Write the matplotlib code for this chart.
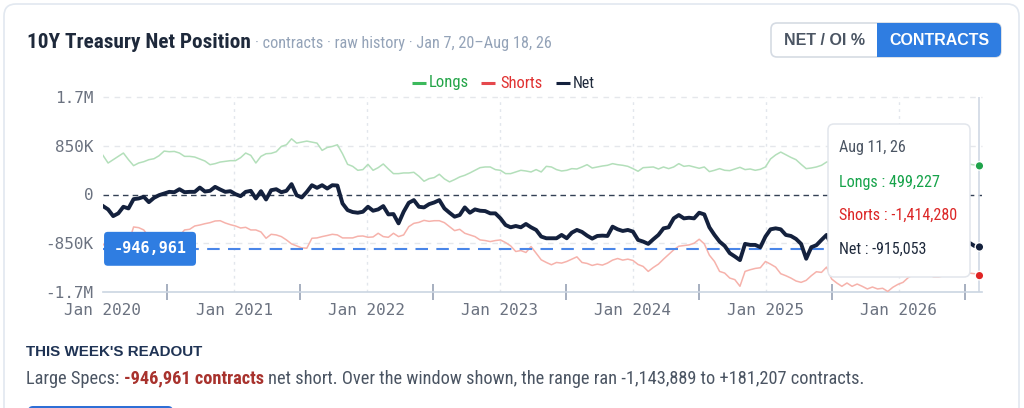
import matplotlib
matplotlib.use("Agg")
import matplotlib.pyplot as plt
from matplotlib.patches import FancyBboxPatch, Rectangle
from matplotlib.lines import Line2D
from matplotlib.transforms import blended_transform_factory
from matplotlib import font_manager as fm
import pandas as pd
import numpy as np

# ---------------- data (thousands of contracts, bi-weekly samples) ----------------
dates = list(pd.date_range("2020-01-07", "2026-08-11", freq="14D")) + [pd.Timestamp("2026-08-18")]

net_k = [
    -202, -260, -376, -329, -214, -243, -81, -69, -40, -133,
    -58, -12, 17, 46, 40, 92, 40, 46, 46, 121,
    52, 64, 133, 87, 46, 58, 6, -29, 46, 64,
    -69, 58, -87, 75, 92, 40, 64, 181.207, -12, -52,
    46, 162, 116, 162, 104,
    162, 156, -156, -272, -306, -318, -301, -214, -283, -260,
    -202, -347, -341, -503, -301, -145, -98, -214, -225, -168,
    -139, -98, -243, -318, -387, -358, -225, -318, -260, -283,
    -289, -329, -329, -416, -532, -572, -549, -572, -514, -572,
    -618, -734, -763, -763,
    -763, -705, -763, -665, -618, -653, -717, -769, -723, -717,
    -723, -561, -607, -636, -618, -647, -792, -821, -861, -780,
    -705, -590, -572, -416, -358, -416, -405, -416, -318, -347,
    -572, -705, -821, -896, -1023, -1081, -1143.889, -861, -879, -879,
    -919, -734, -607, -590,
    -607, -705, -723, -775, -861, -1120, -919, -884, -792, -705,
    -894, -943, -971, -933, -951, -941, -1001, -1067, -1003, -1017,
    -1035, -1090, -1058, -987, -932, -831, -800, -750, -810, -810,
    -880, -890, -886, -830, -840, -830, -870, -840,
    -896, -915.053, -946.961,
]

longs_k = [
    682, 549, 607, 665, 723, 607, 503, 549, 572, 607,
    624, 676, 757, 746, 751, 723, 665, 665, 653, 618,
    584, 520, 538, 566, 578, 590, 590, 642, 723, 682,
    549, 665, 711, 717, 746, 838, 867, 971, 896, 913,
    931, 913, 896, 769, 820,
    838, 867, 711, 526, 491, 422, 434, 526, 422, 468,
    532, 445, 364, 364, 376, 376, 387, 318, 231, 277,
    295, 353, 272, 220, 260, 306, 335, 376, 422, 468,
    480, 480, 434, 422, 364, 364, 393, 422, 410, 393,
    434, 393, 491, 480,
    434, 410, 422, 451, 445, 480, 520, 462, 480, 497,
    509, 538, 520, 509, 491, 451, 405, 468, 474, 480,
    445, 480, 451, 480, 538, 491, 503, 480, 457, 480,
    399, 422, 451, 422, 416, 445, 474, 434, 445, 422,
    439, 480, 620, 690,
    740, 694, 647, 607, 526, 451, 462, 480, 509, 566,
    580, 600, 630, 610, 650, 620, 600, 580, 610, 630,
    600, 570, 560, 580, 600, 620, 600, 630, 610, 580,
    560, 550, 530, 550, 560, 540, 520, 530,
    514, 499.227, 505,
]

shorts_k = [
    -880, -810, -980, -990, -940, -850, -566, -578, -618, -740,
    -720, -720, -740, -730, -730, -720, -618, -607, -549, -532,
    -509, -491, -462, -457, -497, -526, -549, -584, -572, -618,
    -618, -653, -763, -694, -705, -734, -792, -861, -896, -931,
    -936, -763, -757, -734, -715,
    -694, -705, -757, -757, -757, -728, -723, -746, -740, -676,
    -734, -746, -676, -734, -705, -561, -503, -486, -451, -468,
    -457, -457, -491, -561, -630, -607, -676, -705, -734, -792,
    -803, -821, -803, -792, -838, -896, -994, -977, -1011, -907,
    -1023, -1139, -1185, -1225,
    -1185, -1196, -1168, -1127, -1087, -1185, -1202, -1237, -1214, -1231,
    -1196, -1144, -1116, -1144, -1127, -1150, -1220, -1254, -1341, -1272,
    -1214, -1127, -1046, -965, -902, -890, -879, -850, -780, -861,
    -1058, -1168, -1341, -1370, -1457, -1485, -1600, -1341, -1312, -1289,
    -1277, -1168, -1214, -1266,
    -1381, -1416, -1457, -1508, -1532, -1497, -1416, -1347, -1358, -1266,
    -1474, -1543, -1601, -1543, -1601, -1561, -1601, -1647, -1613, -1647,
    -1635, -1690, -1618, -1567, -1532, -1451, -1400, -1380, -1420, -1390,
    -1440, -1440, -1416, -1380, -1400, -1370, -1390, -1370,
    -1381, -1414.28, -1452,
]

ytick_vals = [-1.7e6, -8.5e5, 0, 8.5e5, 1.7e6]
ytick_labels = ["-1.7M", "-850K", "0", "850K", "1.7M"]
year_labels = ["Jan 2020", "Jan 2021", "Jan 2022", "Jan 2023", "Jan 2024", "Jan 2025", "Jan 2026"]
year_label_dates = ["2020-01-07", "2021-01-01", "2022-01-01", "2023-01-01", "2024-01-01", "2025-01-01", "2026-01-01"]
mid_year_dates = ["2020-07-01", "2021-07-01", "2022-07-01", "2023-07-01", "2024-07-01", "2025-07-01", "2026-07-01"]

net = np.array(net_k) * 1000
longs = np.array(longs_k) * 1000
shorts = np.array(shorts_k) * 1000
assert len(net) == len(longs) == len(shorts) == len(dates)

# ---------------- fonts ----------------
avail = {f.name for f in fm.fontManager.ttflist}
SANS = "Liberation Sans" if "Liberation Sans" in avail else "DejaVu Sans"
MONO = "DejaVu Sans Mono"


def _w(f):
    w = f.weight
    if isinstance(w, str):
        w = fm.weight_dict.get(w, 400)
    return int(w)


def pick_condensed():
    prefs = ["roboto", "liberation", "noto sans", "open sans", "lato", "inter", "dejavu sans"]
    cands = []
    for f in fm.fontManager.ttflist:
        nm = f.name.lower()
        fn = f.fname.lower().replace("-", "").replace("_", "").replace(" ", "")
        if "mono" in nm or "semicondensed" in fn or "extracondensed" in fn or "ultracondensed" in fn:
            continue
        if "italic" in fn or f.style != "normal":
            continue
        cond = ("condensed" in nm or "narrow" in nm or "condensed" in fn or "narrow" in fn
                or str(f.stretch) == "condensed")
        if cond:
            cands.append(f)
    for p in prefs:
        fam = [f for f in cands if f.name.lower().startswith(p)]
        reg = [f for f in fam if _w(f) == 400]
        bold = [f for f in fam if _w(f) == 700]
        if reg and bold:
            return reg[0].fname, bold[0].fname
    return None


pc = pick_condensed()
if pc:
    FP_REG = fm.FontProperties(fname=pc[0])
    FP_BOLD = fm.FontProperties(fname=pc[1])
else:
    FP_REG = fm.FontProperties(family="Roboto")
    FP_BOLD = fm.FontProperties(family="Roboto", weight="bold")

NAVY = "#14213d"
GRAY_TXT = "#6b7280"
BLUE = "#2f7de1"

W, H = 1024, 408
fig = plt.figure(figsize=(W / 100, H / 100), dpi=100)
fig.patch.set_facecolor("white")

bg = fig.add_axes([0, 0, 1, 1], zorder=0)
bg.set_xlim(0, W); bg.set_ylim(H, 0); bg.axis("off")

ax = fig.add_axes([103 / W, 1 - 292 / H, 879 / W, 195 / H], zorder=1)
ax.patch.set_alpha(0)

fg = fig.add_axes([0, 0, 1, 1], zorder=3)
fg.set_xlim(0, W); fg.set_ylim(H, 0); fg.axis("off"); fg.patch.set_alpha(0)

# card
bg.add_patch(FancyBboxPatch((4, 4), 1015, 440, boxstyle="round,pad=0,rounding_size=12",
                            fc="white", ec="#e2e8f0", lw=1.2))
# bottom (cut off) button
bg.add_patch(FancyBboxPatch((28, 406), 145, 20, boxstyle="round,pad=0,rounding_size=5",
                            fc="#2f6fd6", ec="none"))

R = fig.canvas.get_renderer()


def wpx(t):
    return t.get_window_extent(renderer=R).width


def fit(axo, x, y, s, target, size, fp, lo=0.85, hi=1.2, **kw):
    t = axo.text(x, y, s, fontproperties=fp, fontsize=size, **kw)
    if target:
        w = wpx(t)
        f = min(hi, max(lo, target / w))
        t.set_fontsize(size * f)
    return t


# title + subtitle
t_title = fit(fg, 27, 48, "10Y Treasury Net Position", 223, 15, FP_BOLD,
              color="#1e293b", va="baseline", ha="left")
x_sub = 27 + wpx(t_title) + 4
fit(fg, x_sub, 48, "\u00b7 contracts \u00b7 raw history \u00b7 Jan 7, 20\u2013Aug 18, 26", 553 - x_sub, 11,
    FP_REG, color="#94a3b8", va="baseline", ha="left")

# toggle buttons
fg.add_patch(FancyBboxPatch((771, 23), 230, 34, boxstyle="round,pad=0,rounding_size=6",
                            fc="white", ec="#d5dbe3", lw=1.2))
fg.add_patch(FancyBboxPatch((877, 23), 124, 34, boxstyle="round,pad=0,rounding_size=6",
                            fc=BLUE, ec="none"))
fg.add_patch(Rectangle((877, 23), 10, 34, fc=BLUE, ec="none"))
fg.text(824, 40.5, "NET / OI %", family=SANS, weight="bold", fontsize=11.5, color="#4b5563",
        ha="center", va="center")
fg.text(939, 40.5, "CONTRACTS", family=SANS, weight="bold", fontsize=11.5, color="white",
        ha="center", va="center")

# legend
leg = [("Longs", "#3cb95c", "#22a447", 412, 429, 40), ("Shorts", "#e5484d", "#e03131", 481, 500, 42),
       ("Net", NAVY, "#1e293b", 556, 573, 22)]
for name, lc, tc, x0, xt, tw in leg:
    fg.add_line(Line2D([x0, x0 + 14], [83, 83], color=lc, lw=2.2, solid_capstyle="butt"))
    fit(fg, xt, 83, name, tw, 11.5, FP_REG, color=tc, va="center", ha="left")

# ---------------- main chart ----------------
ax.set_xlim(dates[0], dates[-1])
ax.set_ylim(-1.7e6, 1.7e6)
for s in ("top", "left", "right"):
    ax.spines[s].set_visible(False)
ax.spines["bottom"].set_color("#cbd5e1")
ax.spines["bottom"].set_linewidth(1.2)

ax.set_yticks(ytick_vals)
ax.set_yticklabels(ytick_labels, family=MONO, fontsize=11.5, color=GRAY_TXT)
ax.tick_params(axis="y", length=0, pad=7)

mids = [pd.Timestamp(d) for d in mid_year_dates]
ylds = [pd.Timestamp(d) for d in year_label_dates]
ax.set_xticks(mids)
ax.set_xticklabels([""] * len(mids))
ax.set_xticks(ylds, minor=True)
ax.set_xticklabels(year_labels, minor=True, family=MONO, fontsize=11.5, color=GRAY_TXT)
ax.tick_params(axis="x", which="major", direction="inout", length=11, width=1.1, color="#8e9aaf")
ax.tick_params(axis="x", which="minor", length=0, pad=8)

# grid
for v in (8.5e5, -8.5e5, 1.7e6):
    ax.axhline(v, color="#e5e7eb", lw=1, ls=(0, (4, 4)), clip_on=False, zorder=1)
for d in ylds[1:]:
    ax.axvline(d, color="#e2e6ec", lw=1, ls=(0, (2, 3)), zorder=1)
ax.axhline(0, color="#334155", lw=1, ls=(0, (4, 3)), zorder=2)

# hover pointer line
ax.axvline(dates[-2], color="#cbd5e1", lw=1.1, zorder=2)

# series
ax.plot(dates, longs, color="#b3dfba", lw=1.1, zorder=3)
ax.plot(dates, shorts, color="#f6b2ab", lw=1.1, zorder=3)
ax.plot(dates, net, color=NAVY, lw=2.8, solid_joinstyle="round", zorder=4)

# latest value line + label
ax.axhline(net[-1], color="#4a86e8", lw=1.5, ls=(0, (6, 4)), zorder=3)
trans = blended_transform_factory(ax.transAxes, ax.transData)
ax.text(0.0535, net[-1], f"{net[-1]:,.0f}", transform=trans, ha="center", va="center",
        family=MONO, weight="bold", fontsize=11, color="white", zorder=8,
        bbox=dict(boxstyle="round,pad=0.62,rounding_size=0.25", fc=BLUE, ec="none"))

# hover dots
ax.scatter([dates[-2]] * 3, [longs[-2], shorts[-2], net[-2]], c=["#1fa34a", "#e02424", NAVY],
           s=38, edgecolors="white", linewidths=1.0, zorder=9, clip_on=False)

# tooltip
fg.add_patch(FancyBboxPatch((828, 124), 142, 153, boxstyle="round,pad=0,rounding_size=6",
                            fc="white", ec="#e2e6ec", lw=1.1))
tip_date = dates[-2].strftime("%b %d, %y").replace(" 0", " ")
fit(fg, 839, 152, tip_date, 67, 11.6, FP_REG, color="#4b5563", va="baseline")
fit(fg, 839, 186.5, f"Longs : {longs[-2]:,.0f}", 101, 11.6, FP_REG, color="#16a34a", va="baseline")
fit(fg, 839, 220, f"Shorts : {shorts[-2]:,.0f}", 118, 11.6, FP_REG, color="#dc2626", va="baseline")
fit(fg, 839, 253.5, f"Net : {net[-2]:,.0f}", 88, 11.6, FP_REG, color="#1e293b", va="baseline")

# readout
fg.text(26, 356, "THIS WEEK'S READOUT", family=SANS, weight="bold", fontsize=10.9, color="#1f3354",
        va="baseline", ha="left")

seg1 = "Large Specs:"
seg2 = f"{net[-1]:,.0f} contracts"
seg3 = (f"net short. Over the window shown, the range ran {net.min():,.0f} to "
        f"+{net.max():,.0f} contracts.")
size = 14.0
segs = ((seg1, FP_REG, "#4b5563"), (seg2, FP_BOLD, "#a8322d"), (seg3, FP_REG, "#4b5563"))
# iterate so that the full line spans the reference width
for _ in range(3):
    space = size * 100 / 72 * 0.23
    tmp = [fg.text(0, 0, s, fontproperties=fp, fontsize=size) for s, fp, c in segs]
    total = sum(wpx(t) for t in tmp) + 2 * space
    for t in tmp:
        t.remove()
    size = size * min(1.25, max(0.8, (866 - 26) / total))
space = size * 100 / 72 * 0.23
x = 26
for s, fp, col in segs:
    t = fg.text(x, 383.5, s, fontproperties=fp, fontsize=size, color=col, va="baseline", ha="left")
    x += wpx(t) + space

fig.savefig("out.png", dpi=100, facecolor="white")
